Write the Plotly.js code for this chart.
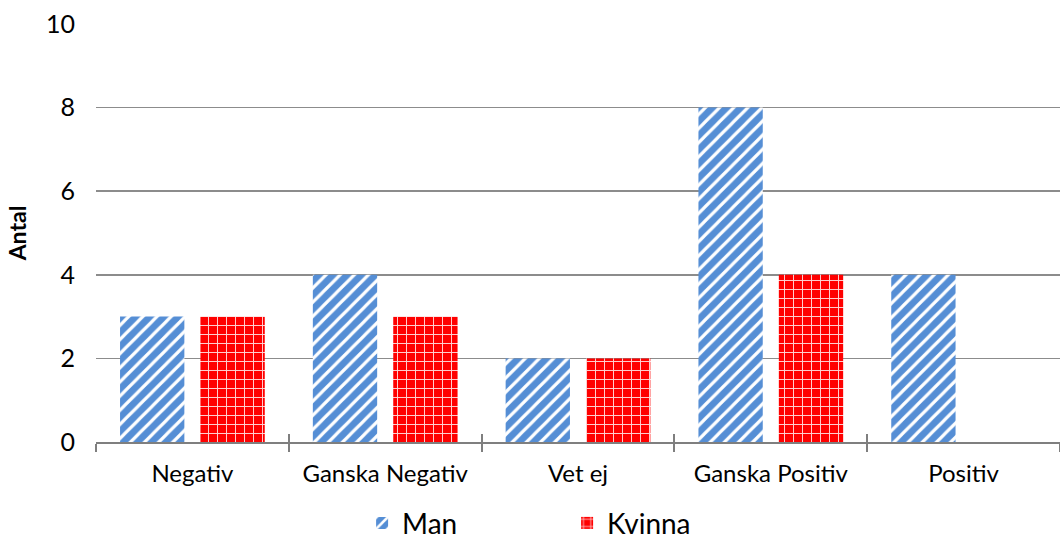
<!DOCTYPE html>
<html>
<head>
<meta charset="utf-8">
<script src="https://cdn.plot.ly/plotly-3.0.1.min.js"></script>
<style>html,body{margin:0;padding:0;background:#fff;}#chart{width:1060px;height:545px;}</style>
</head>
<body>
<div id="chart"></div>
<script>
const categories = ["Negativ", "Ganska Negativ", "Vet ej", "Ganska Positiv", "Positiv"];
const manValues = [3, 4, 2, 8, 4];
const kvinnaValues = [3, 3, 2, 4, 0];
const yTicks = [0, 2, 4, 6, 8, 10];

const FONT = "Lato, 'Open Sans', 'Liberation Sans', sans-serif";

const traces = [
  {
    type: "bar", name: "Man", x: categories, y: manValues,
    marker: {
      color: "#558ED5",
      line: {width: 0},
      pattern: {shape: "/", fgcolor: "#ffffff", bgcolor: "#558ED5", size: 10, solidity: 0.32}
    },
    hoverinfo: "skip"
  },
  {
    type: "bar", name: "Kvinna", x: categories, y: kvinnaValues,
    marker: {
      color: "#FF0000",
      line: {width: 0},
      pattern: {shape: "+", fgcolor: "#FFD6D6", bgcolor: "#FF0000", size: 9, solidity: 0.2}
    },
    hoverinfo: "skip"
  },
  {
    // invisible helper so the overlay axis (upper half of the crossing ticks) is drawn
    type: "scatter", mode: "none", x: categories, y: manValues,
    xaxis: "x2", yaxis: "y", showlegend: false, hoverinfo: "skip"
  }
];

const layout = {
  width: 1060, height: 545,
  margin: {l: 96, r: 0, t: 24, b: 103, autoexpand: false},
  paper_bgcolor: "#fff", plot_bgcolor: "#fff",
  barmode: "group", bargap: 0.166, bargroupgap: 0.2,
  font: {family: FONT, color: "#000"},
  showlegend: true,
  legend: {
    orientation: "h", xref: "container", x: 0.535, xanchor: "center",
    yref: "container", y: 0.04, yanchor: "middle",
    font: {size: 28, family: FONT}, entrywidth: 160, itemwidth: 30,
    tracegroupgap: 0
  },
  xaxis: {
    type: "category", tickson: "boundaries", ticks: "outside", ticklen: 8,
    tickcolor: "#7f7f7f", tickwidth: 2, showline: true, linecolor: "#7f7f7f", linewidth: 2,
    tickfont: {size: 24, family: FONT}, ticklabelstandoff: 9, tickangle: 0,
    automargin: false, showgrid: false, fixedrange: true
  },
  xaxis2: {
    type: "category", overlaying: "x", anchor: "y", side: "bottom",
    categoryarray: categories, categoryorder: "array", range: [-0.5, 4.5],
    tickson: "boundaries", ticks: "inside", ticklen: 8, tickcolor: "#7f7f7f", tickwidth: 2,
    showticklabels: false, showgrid: false, showline: false, zeroline: false, fixedrange: true
  },
  yaxis: {
    range: [0, 10], tickvals: yTicks, ticktext: yTicks.map(String),
    showgrid: true, gridcolor: "#8c8c8c", gridwidth: 1.5,
    zeroline: false, showline: false, ticks: "",
    tickfont: {size: 25, family: FONT}, ticklabelstandoff: 20, automargin: false,
    title: {text: "<b>Antal</b>", font: {size: 23, family: FONT}, standoff: 12},
    fixedrange: true
  }
};

Plotly.newPlot("chart", traces, layout, {staticPlot: true});
</script>
</body>
</html>
